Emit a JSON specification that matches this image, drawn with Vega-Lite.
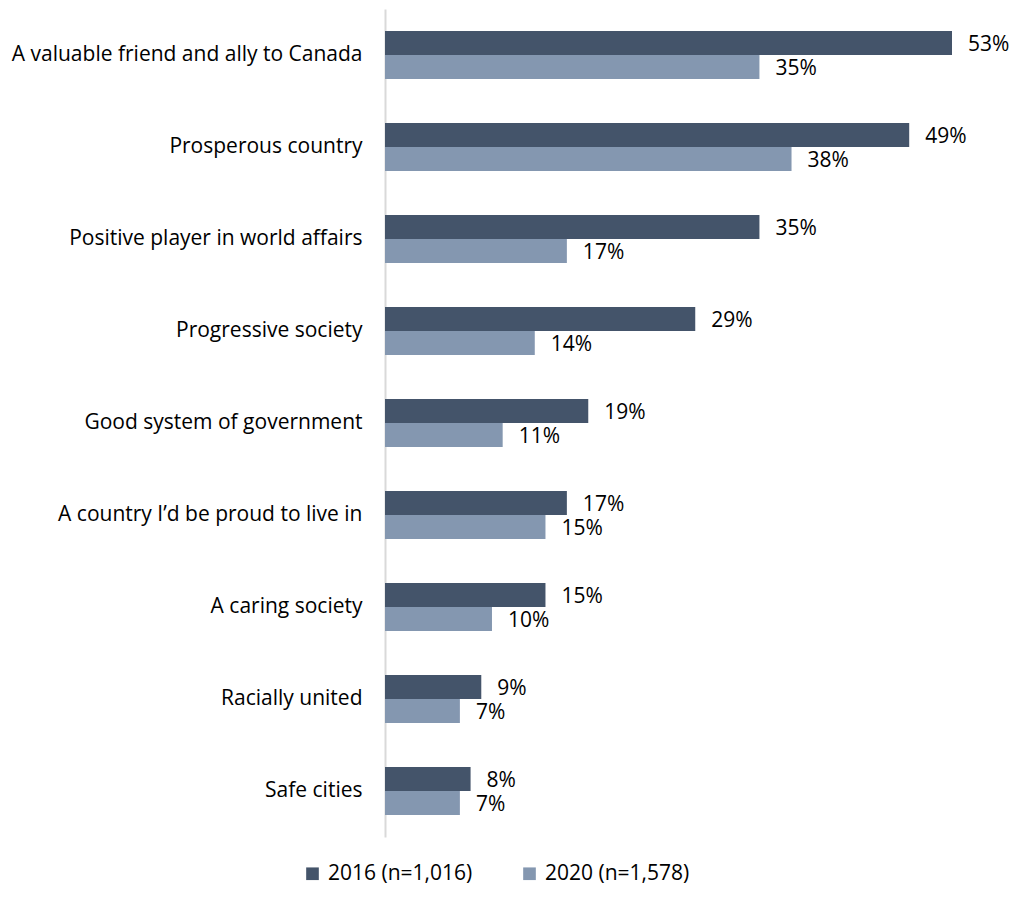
{
  "$schema": "https://vega.github.io/schema/vega-lite/v6.json",
  "width": 567,
  "height": 828,
  "autosize": "none",
  "padding": {"left": 385, "top": 9, "right": 61, "bottom": 75},
  "background": "white",
  "config": {"view": {"stroke": null}, "font": "Open Sans"},
  "data": {
    "values": [
      {"item": "A valuable friend and ally to Canada", "year": "2016 (n=1,016)", "pct": 53},
      {"item": "A valuable friend and ally to Canada", "year": "2020 (n=1,578)", "pct": 35},
      {"item": "Prosperous country", "year": "2016 (n=1,016)", "pct": 49},
      {"item": "Prosperous country", "year": "2020 (n=1,578)", "pct": 38},
      {"item": "Positive player in world affairs", "year": "2016 (n=1,016)", "pct": 35},
      {"item": "Positive player in world affairs", "year": "2020 (n=1,578)", "pct": 17},
      {"item": "Progressive society", "year": "2016 (n=1,016)", "pct": 29},
      {"item": "Progressive society", "year": "2020 (n=1,578)", "pct": 14},
      {"item": "Good system of government", "year": "2016 (n=1,016)", "pct": 19},
      {"item": "Good system of government", "year": "2020 (n=1,578)", "pct": 11},
      {"item": "A country I’d be proud to live in", "year": "2016 (n=1,016)", "pct": 17},
      {"item": "A country I’d be proud to live in", "year": "2020 (n=1,578)", "pct": 15},
      {"item": "A caring society", "year": "2016 (n=1,016)", "pct": 15},
      {"item": "A caring society", "year": "2020 (n=1,578)", "pct": 10},
      {"item": "Racially united", "year": "2016 (n=1,016)", "pct": 9},
      {"item": "Racially united", "year": "2020 (n=1,578)", "pct": 7},
      {"item": "Safe cities", "year": "2016 (n=1,016)", "pct": 8},
      {"item": "Safe cities", "year": "2020 (n=1,578)", "pct": 7}
    ]
  },
  "encoding": {
    "y": {
      "field": "item", "type": "nominal", "sort": null,
      "scale": {"paddingInner": 0.4783, "paddingOuter": 0.2391},
      "axis": {"title": null, "ticks": false, "domainColor": "#d9d9d9", "domainWidth": 2, "labelFontSize": 21, "labelColor": "#000000", "labelPadding": 23, "labelLimit": 400, "labelFont": "Open Sans"}
    },
    "yOffset": {"field": "year", "type": "nominal", "scale": {"paddingInner": 0, "paddingOuter": 0}},
    "x": {"field": "pct", "type": "quantitative", "scale": {"domain": [0, 53], "nice": false}, "axis": null}
  },
  "layer": [
    {
      "mark": {"type": "bar", "stroke": null},
      "encoding": {
        "color": {
          "field": "year", "type": "nominal",
          "scale": {"range": ["#44546a", "#8497b0"]},
          "legend": {"title": null, "orient": "none", "direction": "horizontal", "legendX": -83, "legendY": 854, "symbolType": "square", "symbolSize": 160, "symbolStrokeWidth": 0, "labelFontSize": 21, "labelFont": "Open Sans", "labelColor": "#000000", "columnPadding": 46, "labelOffset": 5, "labelLimit": 300}
        }
      }
    },
    {
      "transform": [{"calculate": "datum.pct + '%'", "as": "label"}],
      "mark": {"type": "text", "align": "left", "baseline": "middle", "dx": 16, "dy": 2, "fontSize": 21, "font": "Open Sans", "color": "#000000"},
      "encoding": {"text": {"field": "label", "type": "nominal"}}
    }
  ]
}
